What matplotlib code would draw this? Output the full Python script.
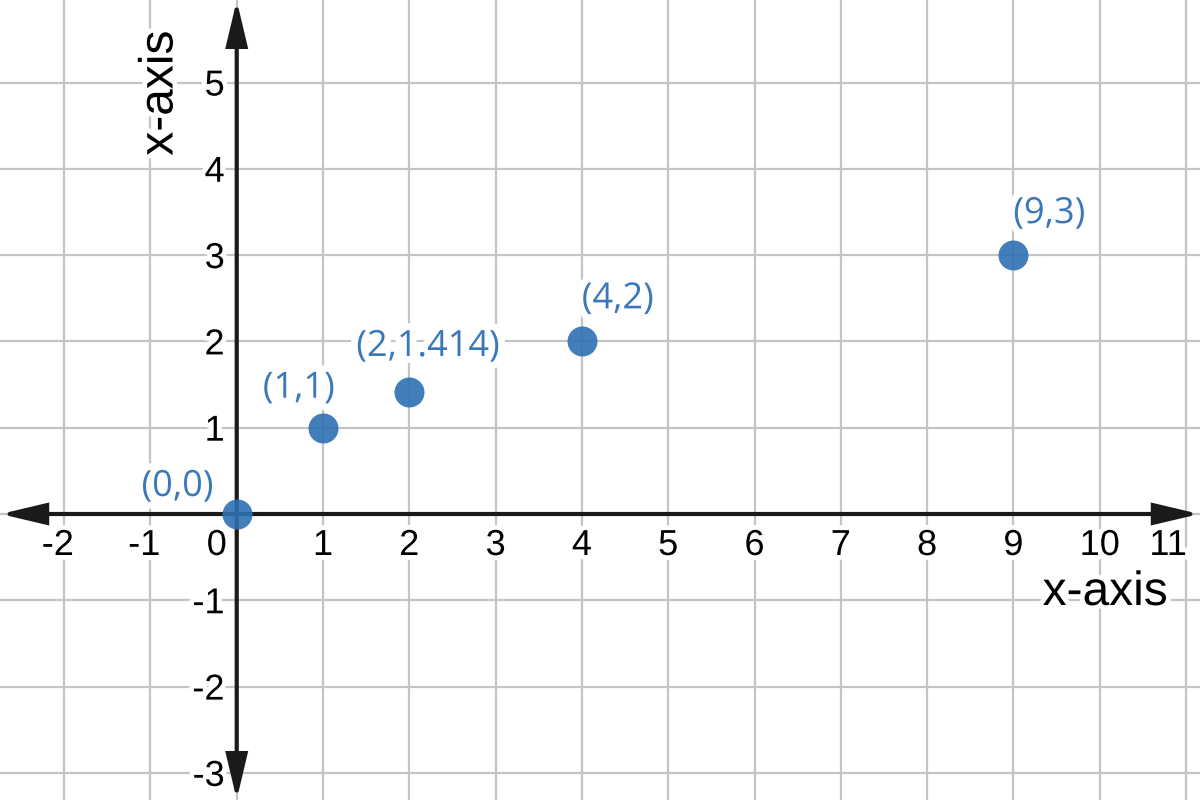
import matplotlib
matplotlib.use("Agg")
import matplotlib.pyplot as plt
import matplotlib.patheffects as pe

# ---- data ----
point_x = [0, 1, 2, 4, 9]
point_y = [0, 1, 1.414, 2, 3]
point_labels = ["(0,0)", "(1,1)", "(2,1.414)", "(4,2)", "(9,3)"]
# label offsets from point, in pixels (dx of centre, dy of baseline)
label_dx_px = [-59, -24, 19, 36, 36]
label_dy_px = [18, 30, 36, 33, 32]

x_ticks = list(range(-2, 12))
y_ticks = [t for t in range(-3, 6) if t != 0]
x_label = "x-axis"
y_label = "x-axis"

XLIM = (-2.743, 11.162)
YLIM = (-3.314, 5.956)

BLUE = "#2d70b3"
AXIS_C = "#1a1a1a"
GRID_C = "#c4c4c4"
PX = 0.72  # points per pixel at dpi 100

fig = plt.figure(figsize=(12, 8), dpi=100)
ax = fig.add_axes([0, 0, 1, 1])
ax.set_xlim(*XLIM)
ax.set_ylim(*YLIM)
for s in ax.spines.values():
    s.set_visible(False)

ax.set_xticks(x_ticks)
ax.set_yticks(list(range(-3, 6)))
ax.tick_params(length=0, labelbottom=False, labelleft=False)
ax.grid(True, color=GRID_C, lw=1.6, zorder=0)
ax.set_axisbelow(True)

halo = [pe.withStroke(linewidth=7, foreground="white")]
tick_font = dict(family=["Liberation Sans", "DejaVu Sans"], size=26, color="black")

# axes with arrows
arrow = dict(arrowstyle="<|-|>,head_length=1.35,head_width=0.32", mutation_scale=20,
             lw=3, color=AXIS_C, shrinkA=0, shrinkB=0, joinstyle="miter")
ax.annotate("", xy=(0.9995, 0), xytext=(0.0005, 0), xycoords=ax.get_yaxis_transform(),
            textcoords=ax.get_yaxis_transform(), arrowprops=arrow, zorder=3)
ax.annotate("", xy=(0, 0.9995), xytext=(0, 0.0005), xycoords=ax.get_xaxis_transform(),
            textcoords=ax.get_xaxis_transform(), arrowprops=arrow, zorder=3)

# x tick labels
half_digit = 10
for t in x_ticks:
    if t == 0:
        ax.annotate("0", xy=(0, 0), xytext=(-10 * PX, -41 * PX), textcoords="offset points",
                    ha="right", va="baseline", path_effects=halo, zorder=4, **tick_font)
        continue
    if t < 0:
        ha, dx = "right", half_digit
    elif t == max(x_ticks):
        ha, dx = "right", 1
    else:
        ha, dx = "center", 0
    ax.annotate(str(t), xy=(t, 0), xytext=(dx * PX, -41 * PX),
                textcoords="offset points", ha=ha, va="baseline",
                path_effects=halo, zorder=4, **tick_font)

# y tick labels
for t in y_ticks:
    ax.annotate(str(t), xy=(0, t), xytext=(-12 * PX, -13 * PX), textcoords="offset points",
                ha="right", va="baseline", path_effects=halo, zorder=4, **tick_font)

# points
ax.plot(point_x, point_y, "o", ms=30 * PX, color=BLUE, alpha=0.9, mec="none", zorder=5)
for x, y, lab, dx, dy in zip(point_x, point_y, point_labels, label_dx_px, label_dy_px):
    ax.annotate(lab, xy=(x, y), xytext=(dx * PX, dy * PX), textcoords="offset points",
                ha="center", va="baseline", color="#3a78b9", fontsize=26,
                family=["Open Sans", "DejaVu Sans"],
                path_effects=[pe.withStroke(linewidth=10, foreground="white")], zorder=6)

# axis labels
fig.text(1168 / 1200, 1 - 605 / 800, x_label, ha="right", va="baseline",
         family=["Liberation Sans", "DejaVu Sans"], size=34.5, color="black",
         path_effects=halo, zorder=7)
fig.text(160 / 1200, 1 - 93 / 800, y_label, ha="center", va="center", rotation=90,
         family=["Liberation Sans", "DejaVu Sans"], size=34.5, color="black",
         path_effects=halo, zorder=7)

fig.savefig("out.png", dpi=100)
